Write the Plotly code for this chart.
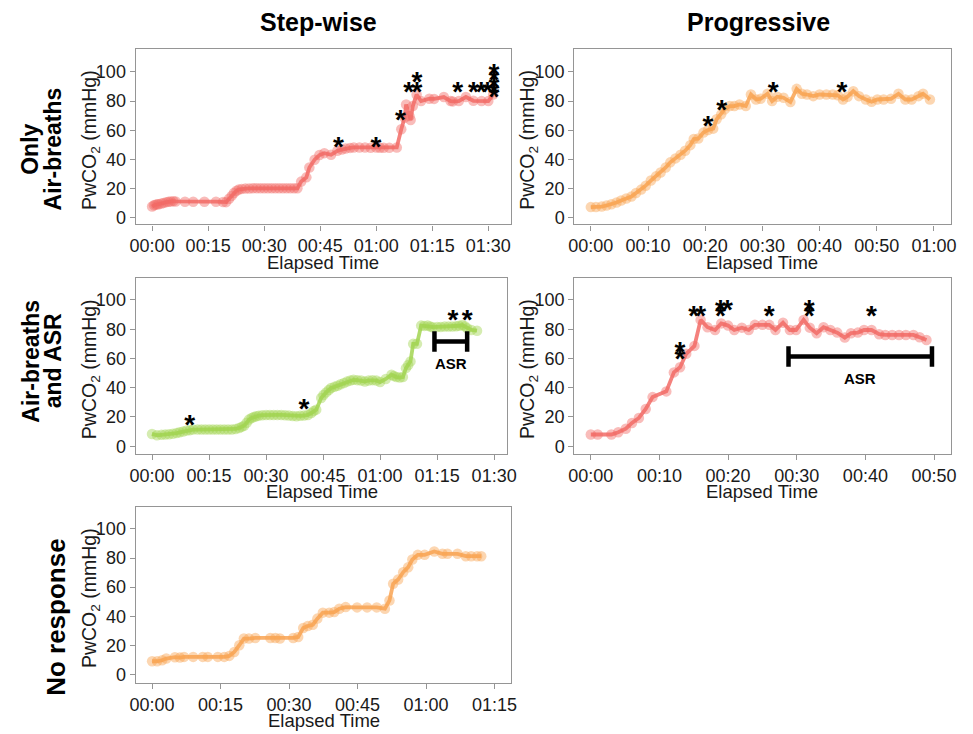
import plotly.graph_objects as go

# ---------------- data (elapsed minutes, PwCO2 mmHg) ----------------
# Step-wise, only air-breaths
sw_air_t = [0, 0.5, 0.9, 1.4, 1.8, 2.5, 3.1, 3.8, 4.4, 5.0, 5.7, 6.3, 8.8, 11, 14, 17.1,
            19.0, 19.8, 20.6, 21.3, 21.9, 22.6, 23.2, 24, 25, 26, 27, 28, 29, 30, 31, 32,
            33, 34, 35, 36, 37, 38, 38.9, 39.9, 41.3, 42.1, 43.5, 44.8, 46.1, 47.9, 49.6,
            50.8, 51.8, 53, 54, 55.5, 57, 58.5, 60, 61, 62, 63.5, 65.5, 66.7, 67.6, 68.0,
            68.9, 69.2, 69.8, 70.8, 72, 74.2, 75.5, 78.1, 79.9, 80.5, 82.1, 84, 86, 88.2,
            90, 91.3]
sw_air_v = [7.7, 8.6, 9, 9.2, 9.3, 9.8, 10.2, 10.7, 11, 11.2, 11.4, 11.2, 11, 11, 11, 11,
            10.8, 10.7, 13, 15, 17, 18.5, 19.3, 19.8, 20, 20.1, 20.2, 20.2, 20.2, 20.2, 20.2, 20.2,
            20.2, 20.2, 20.2, 20.2, 20.2, 20.2, 20.2, 24.8, 27.7, 34.5, 39.8, 43, 44.3, 43.2, 45.9,
            46.8, 47.5, 47.9, 48.2, 48.2, 48.2, 48.0, 48.2, 48, 48, 48, 48.2, 60.7, 68.6, 77.7,
            69.7, 67, 76.6, 84.5, 80, 81.6, 81.5, 82.8, 80, 79.8, 80, 82.8, 80.2, 80,
            80, 84.5]
sw_air_star_t = [49.9, 59.9, 66.5, 68.7, 70.9, 70.9, 81.8, 86, 88.1, 89.8,
                 91.5, 91.5, 91.5, 91.5, 91.5]
sw_air_star_v = [53.9, 53.9, 72, 91.3, 91.3, 98.2, 91.3, 91.3, 91.3, 91.3,
                 104, 99.5, 95, 90.5, 88]

# Progressive, only air-breaths
pg_air_t = [0, 0.9, 1.9, 2.75, 3.6, 4.5, 5.3, 6.2, 7.1, 7.9, 8.8, 9.6, 10.5, 11.4, 12.2,
            13.1, 13.9, 14.8, 15.7, 16.5, 17.4, 18, 18.8, 19.7, 20.5, 21.4, 22, 22.8, 23.4,
            24.3, 25.1, 26, 27.1, 28, 28.9, 29.7, 30.9, 31.7, 32.6, 33.7, 34.9, 36, 36.9,
            37.8, 38.9, 40, 41.2, 42.3, 43.2, 44.1, 44.9, 45.9, 46.9, 48.1, 49.1, 50.1,
            51.2, 52.5, 53.8, 55, 56.1, 57.3, 58.1, 59.3]
pg_air_v = [7.3, 7.3, 7.7, 8.4, 9.3, 10.5, 11.8, 13.2, 14.5, 17, 19.3, 22, 25.5, 28.4, 31,
            34.5, 38, 40.7, 43.2, 46, 49.8, 54, 54.3, 58.4, 60.2, 61.1, 67.5, 70.9, 74.3,
            76.6, 76.6, 77.7, 76.6, 84.5, 81.1, 81.6, 85, 80, 83, 82.3, 79.3, 88.4, 85,
            84.5, 83.4, 84.5, 84.5, 84.5, 84, 81.1, 83, 86.8, 83.4, 81.1, 79.5, 81.1,
            81.1, 81.6, 85, 81.1, 81.1, 83.4, 85, 81.1]
pg_air_star_t = [20.5, 22.9, 31.9, 43.9]
pg_air_star_v = [68, 79.3, 91.4, 91.4]

# Step-wise, air-breaths and ASR
sw_asr_t = [0, 1.3, 2.5, 3.5, 4.5, 5.5, 6.5, 7.3, 8.2, 9.1, 10, 10.8, 12, 13, 14, 15, 16,
            17, 18, 19, 20, 21, 22, 22.9, 23.6, 24.2, 24.9, 25.5, 26.2, 26.8, 27.4, 28.1,
            29, 30, 31, 32, 33, 34, 35, 36, 37, 38, 39, 40, 41, 41.9, 42.5, 43.2, 44.5,
            45.1, 45.8, 46.5, 47.1, 48, 48.8, 49.6, 50.5, 51.3, 52.2, 53, 54, 55, 56, 57,
            58, 59, 60, 61.5, 63, 63.6, 64.3, 65.2, 66, 66.8, 67.4, 68, 68.7, 69.7, 70.8,
            71.6, 72.5, 73.2, 73.8, 75, 76, 77, 78, 79, 80, 80.8, 81.6, 82.3, 82.9, 84, 85.5]
sw_asr_v = [8.4, 7.5, 7.8, 8, 8.2, 8.5, 9, 9.5, 10.1, 10.7, 11, 11.4, 11.4, 11.4, 11.4, 11.4, 11.4,
            11.4, 11.4, 11.4, 11.4, 11.4, 11.8, 12.5, 13.2, 14, 16, 18.2, 19.3, 20, 20.5, 20.9,
            21.2, 21.4, 21.4, 21.4, 21.4, 21.4, 21.2, 21, 20.6, 20.5, 20.8, 21, 21.4, 22.7, 24, 25, 33,
            35, 36.8, 38.5, 39.8, 40.6, 41.4, 42.3, 43.2, 44.2, 45, 45.4, 45.2, 45, 44.3, 45,
            45.2, 45, 43.9, 46, 48.9, 48, 47.3, 47, 47.3, 53.4, 55.5, 58, 70, 70, 82.5,
            82.3, 82.5, 81.8, 81.4, 81.6, 81.6, 81.8, 81.8, 81.8, 82, 82.4, 82.9, 82, 80.7, 79.5, 79]
sw_asr_star_t = [9.9, 40, 79.2, 82.9]
sw_asr_star_v = [19.3, 30.7, 91.4, 91.4]
sw_asr_window = [74.3, 82.9]

# Progressive, air-breaths and ASR
pg_asr_t = [0, 1, 3, 4, 5.1, 6, 7, 8, 9, 11, 12.1, 13, 13.9, 15.1, 16, 17, 18.1, 19, 20,
            20.9, 22, 23, 23.9, 25, 26, 26.9, 28, 29, 29.9, 31, 31.9, 32.9, 33.9, 34.9,
            35.9, 37, 37.9, 38.9, 39.8, 40.9, 42, 42.9, 43.9, 44.9, 45.9, 47, 47.9, 48.9]
pg_asr_v = [8, 8, 8, 9.5, 12, 15.9, 19.3, 25.5, 33.6, 37.5, 50.5, 54, 63.2, 68.6, 86.4, 81.4,
            79.5, 84, 82.5, 79.5, 81.1, 79.5, 83, 83, 83, 79.5, 84.5, 79.5, 79.5, 86.4, 81.1,
            77.3, 81.4, 79.5, 77.7, 74.3, 77.3, 77.7, 79.5, 79.5, 76.6, 76.1, 76.1, 76.1,
            76.1, 76.1, 74.5, 72.7]
pg_asr_star_t = [13, 13, 15, 16, 18.9, 18.9, 19.9, 26, 31.8, 31.8, 40.9]
pg_asr_star_v = [69.3, 64.8, 94.3, 94.3, 98.6, 94.3, 98.6, 94.3, 98.6, 94.3, 94.3]
pg_asr_window = [28.8, 49.7]

# Step-wise, no response
sw_none_t = [0, 1.1, 2.2, 3.1, 5, 6.1, 7, 9, 11.1, 12.2, 14.4, 15.8, 16.9, 18, 19.1, 20.1,
             21.2, 22.6, 25.9, 27, 28, 30.9, 32, 33.1, 34.1, 35.2, 36.2, 37.4, 38.8, 39.9,
             41, 42.4, 44.9, 47.1, 49.2, 51, 52, 52.8, 53.9, 55, 56.1, 57, 58.2, 59.7,
             61.8, 63.6, 64.7, 66.9, 68.7, 69.9, 71.2, 72.1]
sw_none_v = [9.1, 9.1, 9.8, 11, 11.9, 11.6, 12.1, 12.1, 12.1, 12.1, 12.1, 12.1, 12.8, 15.5,
             20.1, 24.7, 24.7, 25.1, 25.1, 25.1, 24.7, 25.1, 25.8, 32, 33.3, 34.2, 38.4, 42.5,
             42.5, 42.9, 45.2, 46.3, 46.1, 46.1, 46.1, 45.2, 50.9, 62.3, 65.3, 70.3, 73.7,
             79, 82.2, 82.2, 84.5, 82.9, 82.9, 82.9, 81.3, 81.3, 81.3, 81.3]

# tick labels (minutes -> HH:MM)
ticks_15_90 = [0, 15, 30, 45, 60, 75, 90]
ticks_10_60 = [0, 10, 20, 30, 40, 50, 60]
ticks_10_50 = [0, 10, 20, 30, 40, 50]
ticks_15_75 = [0, 15, 30, 45, 60, 75]
y_ticks = [0, 20, 40, 60, 80, 100]

# ---------------- styling ----------------
RED = "#F26B66"
ORANGE = "#F9A352"
GREEN = "#A2D551"
FONT = "Liberation Sans, Arial, sans-serif"
W, H = 973, 734
STAR_SIZE = 28
STAR_DY = 6.5  # lift of the '*' glyph above its anchor, in data units


def hhmm(m):
    return f"{m // 60:02d}:{m % 60:02d}"


def rgba(hexc, a):
    h = hexc.lstrip("#")
    r, g, b = int(h[0:2], 16), int(h[2:4], 16), int(h[4:6], 16)
    return f"rgba({r},{g},{b},{a})"


# panel boxes in pixels: (left, right, top, bottom), x-range, y-range, x ticks
panels = [
    dict(box=(131.7, 513.0, 49.3, 225.7), xr=[-4.4, 96.1], yr=[-4.6, 115.7], ticks=ticks_15_90,
         t=sw_air_t, v=sw_air_v, st=sw_air_star_t, sv=sw_air_star_v, color=RED),
    dict(box=(577.3, 959.3, 49.3, 225.7), xr=[-2.87, 62.9], yr=[-4.6, 115.7], ticks=ticks_10_60,
         t=pg_air_t, v=pg_air_v, st=pg_air_star_t, sv=pg_air_star_v, color=ORANGE),
    dict(box=(131.7, 509.3, 279.3, 456.3), xr=[-4.3, 93.5], yr=[-5.2, 115.2], ticks=ticks_15_90,
         t=sw_asr_t, v=sw_asr_v, st=sw_asr_star_t, sv=sw_asr_star_v, color=GREEN,
         asr=sw_asr_window, asr_y=71.6),
    dict(box=(577.3, 959.3, 279.3, 456.3), xr=[-2.39, 52.4], yr=[-5.2, 115.2], ticks=ticks_10_50,
         t=pg_asr_t, v=pg_asr_v, st=pg_asr_star_t, sv=pg_asr_star_v, color=RED,
         asr=pg_asr_window, asr_y=61.4),
    dict(box=(131.7, 513.3, 509.3, 686.7), xr=[-3.6, 78.7], yr=[-5.8, 115.4], ticks=ticks_15_75,
         t=sw_none_t, v=sw_none_v, st=[], sv=[], color=ORANGE),
]

fig = go.Figure()
layout = dict(
    width=W, height=H, margin=dict(l=0, r=0, t=0, b=0),
    paper_bgcolor="white", plot_bgcolor="white", showlegend=False,
    font=dict(family=FONT, color="#1a1a1a"),
)
annotations = []
shapes = []

for i, p in enumerate(panels, start=1):
    xa = "x" if i == 1 else f"x{i}"
    ya = "y" if i == 1 else f"y{i}"
    l, r, t, b = p["box"]
    axis_common = dict(showline=True, mirror=True, linecolor="#959595", linewidth=1.3,
                       ticks="outside", ticklen=5, tickcolor="#959595", tickwidth=1.2,
                       showgrid=False, zeroline=False,
                       tickfont=dict(size=18, family=FONT, color="#1a1a1a"))
    layout["xaxis" if i == 1 else f"xaxis{i}"] = dict(
        domain=[l / W, r / W], range=p["xr"], anchor=ya,
        tickvals=p["ticks"], ticktext=[hhmm(m) for m in p["ticks"]], **axis_common)
    layout["yaxis" if i == 1 else f"yaxis{i}"] = dict(
        domain=[1 - b / H, 1 - t / H], range=p["yr"], anchor=xa,
        tickvals=y_ticks, **axis_common)

    fig.add_trace(go.Scatter(
        x=p["t"], y=p["v"], xaxis=xa, yaxis=ya, mode="lines+markers",
        line=dict(color=rgba(p["color"], 0.85), width=3.8),
        marker=dict(size=10.5, color=rgba(p["color"], 0.45), line=dict(width=0)),
        hoverinfo="x+y"))
    if p["st"]:
        fig.add_trace(go.Scatter(
            x=p["st"], y=[v - STAR_DY for v in p["sv"]], xaxis=xa, yaxis=ya,
            mode="text", text=["*"] * len(p["st"]), textposition="middle center",
            textfont=dict(size=STAR_SIZE, family=FONT, color="black", weight="bold"),
            hoverinfo="skip"))

    # axis titles
    annotations.append(dict(text="Elapsed Time", xref="paper", yref="paper",
                            x=(l + r) / 2 / W, y=1 - (b + 38) / H,
                            xanchor="center", yanchor="middle", showarrow=False,
                            font=dict(size=18.5, family=FONT, color="#1a1a1a")))
    annotations.append(dict(text="PwCO<sub>2</sub> (mmHg)", xref="paper", yref="paper",
                            x=(l - 46) / W, y=1 - ((t + b) / 2 + 3) / H, textangle=-90,
                            xanchor="center", yanchor="middle", showarrow=False,
                            font=dict(size=19.5, family=FONT, color="#1a1a1a")))

    # ASR window bar with end caps
    if "asr" in p:
        x0, x1 = p["asr"]
        y0 = p["asr_y"]
        bar = dict(type="line", xref=xa, yref=ya, line=dict(color="black", width=4.5))
        shapes.append(dict(bar, x0=x0, x1=x1, y0=y0, y1=y0))
        shapes.append(dict(bar, x0=x0, x1=x0, y0=y0 - 7, y1=y0 + 7))
        shapes.append(dict(bar, x0=x1, x1=x1, y0=y0 - 7, y1=y0 + 7))
        annotations.append(dict(text="<b>ASR</b>", xref=xa, yref=ya, x=(x0 + x1) / 2,
                                y=y0 - 15, showarrow=False, xanchor="center", yanchor="middle",
                                font=dict(size=15, family=FONT, color="black")))

# column headers
for txt, cx in [("Step-wise", 317.5), ("Progressive", 764)]:
    annotations.append(dict(text=f"<b>{txt}</b>", xref="paper", yref="paper",
                            x=cx / W, y=1 - 22 / H, xanchor="center", yanchor="middle",
                            showarrow=False, font=dict(size=25, family=FONT, color="black")))

# row headers
for txt, cx, cy, sz in [("Only", 25, 150, 23), ("Air-breaths", 48, 150, 23),
                        ("Air-breaths", 25, 363, 23), ("and ASR", 48, 363, 23),
                        ("No response", 50, 620, 26)]:
    annotations.append(dict(text=f"<b>{txt}</b>", xref="paper", yref="paper",
                            x=cx / W, y=1 - cy / H, textangle=-90,
                            xanchor="center", yanchor="middle", showarrow=False,
                            font=dict(size=sz, family=FONT, color="black")))

layout["annotations"] = annotations
layout["shapes"] = shapes
fig.update_layout(**layout)
fig.write_html("out.html")
